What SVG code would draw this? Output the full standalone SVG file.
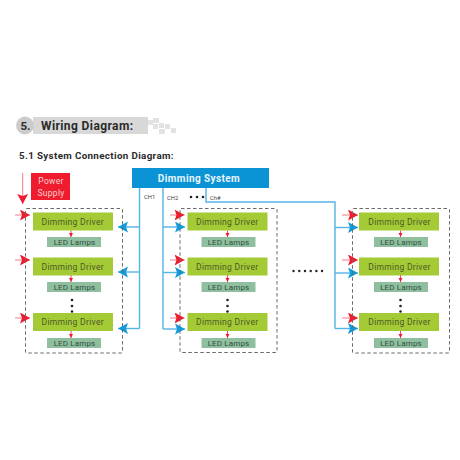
<svg xmlns="http://www.w3.org/2000/svg" width="460" height="460" viewBox="0 0 460 460">
<defs>
<marker id="ar" markerUnits="userSpaceOnUse" markerWidth="12" markerHeight="12" refX="10" refY="5.5" orient="auto"><path d="M0 0L10 5.5L0 11L2 5.5Z" fill="#ee1c2e"/></marker>
<marker id="ab" markerUnits="userSpaceOnUse" markerWidth="12" markerHeight="12" refX="10" refY="5.5" orient="auto"><path d="M0 0L10 5.5L0 11L2 5.5Z" fill="#0f9bdc"/></marker>
<marker id="as" markerUnits="userSpaceOnUse" markerWidth="5" markerHeight="5" refX="4" refY="2" orient="auto"><path d="M0 0L4 2L0 4Z" fill="#ee1c2e"/></marker>
</defs>
<style>
text{font-family:"Roboto","Liberation Sans",sans-serif}
.grp{fill:none;stroke:#6a6a6a;stroke-width:1;stroke-dasharray:3.5 2.5}
.drv{fill:#a4cb35}
.led{fill:#8fbf9f}
.dt{font-size:8.5px;letter-spacing:.3px;fill:#4a5a28;text-anchor:middle}
.lt{font-size:8px;letter-spacing:.15px;fill:#2f5040;text-anchor:middle}
.ch{font-size:5.8px;fill:#444}
.blue{fill:none;stroke:#55b3e6;stroke-width:1.4}
.barr{fill:none;stroke:#55b3e6;stroke-width:1.4;marker-end:url(#ab)}
.rarr{fill:none;stroke:#f47a85;stroke-width:1;marker-end:url(#ar)}
.sarr{fill:none;stroke:#ee1c2e;stroke-width:.8;marker-end:url(#as)}
.dot{fill:#222}
.sq{fill:#e2e2e2}
</style>
<rect width="460" height="460" fill="#fff"/>
<g id="header">
<rect x="33" y="117" width="115" height="17" fill="#d8d8d8"/>
<circle cx="25" cy="125.500" r="9" fill="#cccccc"/>
<rect class="sq" x="148" y="120" width="5" height="5"/><rect class="sq" x="153" y="118" width="6" height="5"/><rect class="sq" x="153" y="124" width="5" height="5"/><rect class="sq" x="159" y="123" width="5" height="5"/><rect class="sq" x="165" y="124" width="5" height="5"/><rect class="sq" x="159" y="129" width="6" height="5"/><rect class="sq" x="171" y="128" width="5" height="5"/>
<text x="20.500" y="129.500" font-size="11.500" font-weight="700" fill="#2b2b2b">5.</text>
<text x="41" y="129.500" font-size="12" font-weight="700" letter-spacing=".4" fill="#2b2b2b">Wiring Diagram:</text>
<text x="19" y="158.500" font-size="9.800" font-weight="700" letter-spacing=".35" fill="#2b2b2b">5.1 System Connection Diagram:</text>
</g>
<g id="power-supply">
<rect x="31" y="173" width="39" height="27" fill="#ee1c2e"/>
<text x="51" y="184" font-size="8.500" letter-spacing=".3" fill="#fbd0d0" text-anchor="middle">Power</text>
<text x="51" y="196" font-size="8.500" letter-spacing=".3" fill="#fbd0d0" text-anchor="middle">Supply</text>
</g>
<g id="dimming-system">
<rect x="132" y="168" width="137" height="20" fill="#0a94d6"/>
<text x="199" y="181.500" font-size="10" font-weight="700" letter-spacing=".4" fill="#eaf6fc" text-anchor="middle">Dimming System</text>
</g>
<g id="connectors">
<path class="rarr" d="M22.700 173V204"/>
<path class="blue" d="M139.500 188V328.500"/>
<path class="blue" d="M163 188V329"/>
<path class="blue" d="M206 188V202H335V328.500"/>
<path class="barr" d="M139.500 227H118"/><path class="barr" d="M139.500 272H118"/><path class="barr" d="M139.500 328.500H118"/>
<path class="barr" d="M163 227H185"/><path class="barr" d="M163 272.500H185"/><path class="barr" d="M163 329H185"/>
<path class="barr" d="M335 227.500H358"/><path class="barr" d="M335 273H358"/><path class="barr" d="M335 328.500H358"/>
<path class="rarr" d="M15 215H30"/><path class="rarr" d="M15 260H30"/><path class="rarr" d="M15 318H30"/>
<path class="rarr" d="M170 215H184.500"/><path class="rarr" d="M170 260H184.500"/><path class="rarr" d="M170 318H184.500"/>
<path class="rarr" d="M342 215H358"/><path class="rarr" d="M342 260H358"/><path class="rarr" d="M342 318H358"/>
<path class="sarr" d="M71 230.500V237"/><path class="sarr" d="M71 275V282"/><path class="sarr" d="M71 331V338"/>
<path class="sarr" d="M227.500 230.500V237"/><path class="sarr" d="M227.500 275V282"/><path class="sarr" d="M227.500 331V338"/>
<path class="sarr" d="M400.500 230.500V237"/><path class="sarr" d="M400.500 275V282"/><path class="sarr" d="M400.500 331V338"/>
</g>
<g id="channel-labels">
<text class="ch" x="144" y="199">CH1</text>
<text class="ch" x="167" y="199.500">CH2</text>
<text class="ch" x="210" y="199.500">Ch#</text>
<circle class="dot" cx="191" cy="197" r="1.300"/><circle class="dot" cx="197" cy="197" r="1.300"/><circle class="dot" cx="203" cy="197" r="1.300"/>
</g>
<g id="group-1">
<rect class="grp" x="25.500" y="208.500" width="97" height="144.500" rx="1"/>
<rect class="drv" x="33" y="212.500" width="80" height="18"/><text class="dt" x="72.700" y="224.500">Dimming Driver</text>
<rect class="led" x="47" y="237" width="54" height="10"/><text class="lt" x="74.500" y="245">LED Lamps</text>
<rect class="drv" x="33" y="257.500" width="80" height="18"/><text class="dt" x="72.700" y="269.500">Dimming Driver</text>
<rect class="led" x="47" y="282" width="54" height="10"/><text class="lt" x="74.500" y="290">LED Lamps</text>
<rect class="drv" x="33" y="313" width="80" height="18"/><text class="dt" x="72.700" y="325">Dimming Driver</text>
<rect class="led" x="47" y="338" width="54" height="10"/><text class="lt" x="74.500" y="346">LED Lamps</text>
<circle class="dot" cx="72" cy="300" r="1.300"/><circle class="dot" cx="72" cy="306" r="1.300"/><circle class="dot" cx="72" cy="311.500" r="1.300"/>
</g>
<g id="group-2">
<rect class="grp" x="180" y="208.500" width="97" height="144" rx="1"/>
<rect class="drv" x="187.500" y="212.500" width="80" height="18"/><text class="dt" x="227.200" y="224.500">Dimming Driver</text>
<rect class="led" x="201.500" y="237" width="54" height="10"/><text class="lt" x="228.500" y="245">LED Lamps</text>
<rect class="drv" x="187.500" y="257.500" width="80" height="18"/><text class="dt" x="227.200" y="269.500">Dimming Driver</text>
<rect class="led" x="201.500" y="282" width="54" height="10"/><text class="lt" x="228.500" y="290">LED Lamps</text>
<rect class="drv" x="187.500" y="313" width="80" height="18"/><text class="dt" x="227.200" y="325">Dimming Driver</text>
<rect class="led" x="201.500" y="338" width="54" height="10"/><text class="lt" x="228.500" y="346">LED Lamps</text>
<circle class="dot" cx="227.500" cy="300" r="1.300"/><circle class="dot" cx="227.500" cy="306" r="1.300"/><circle class="dot" cx="227.500" cy="311.500" r="1.300"/>
</g>
<g id="group-3">
<rect class="grp" x="352.500" y="208.500" width="97" height="144.500" rx="1"/>
<rect class="drv" x="359" y="212.500" width="80" height="18"/><text class="dt" x="399.500" y="224.500">Dimming Driver</text>
<rect class="led" x="374" y="237" width="54" height="10"/><text class="lt" x="401" y="245">LED Lamps</text>
<rect class="drv" x="359" y="257.500" width="80" height="18"/><text class="dt" x="399.500" y="269.500">Dimming Driver</text>
<rect class="led" x="374" y="282" width="54" height="10"/><text class="lt" x="401" y="290">LED Lamps</text>
<rect class="drv" x="359" y="313" width="80" height="18"/><text class="dt" x="399.500" y="325">Dimming Driver</text>
<rect class="led" x="374" y="338" width="54" height="10"/><text class="lt" x="401" y="346">LED Lamps</text>
<circle class="dot" cx="400.500" cy="300" r="1.300"/><circle class="dot" cx="400.500" cy="306" r="1.300"/><circle class="dot" cx="400.500" cy="311.500" r="1.300"/>
</g>
<g id="ellipsis">
<circle class="dot" cx="293.500" cy="271" r="1.200"/><circle class="dot" cx="299.300" cy="271" r="1.200"/><circle class="dot" cx="305" cy="271" r="1.200"/><circle class="dot" cx="310.700" cy="271" r="1.200"/><circle class="dot" cx="316.400" cy="271" r="1.200"/><circle class="dot" cx="322" cy="271" r="1.200"/>
</g>
</svg>
